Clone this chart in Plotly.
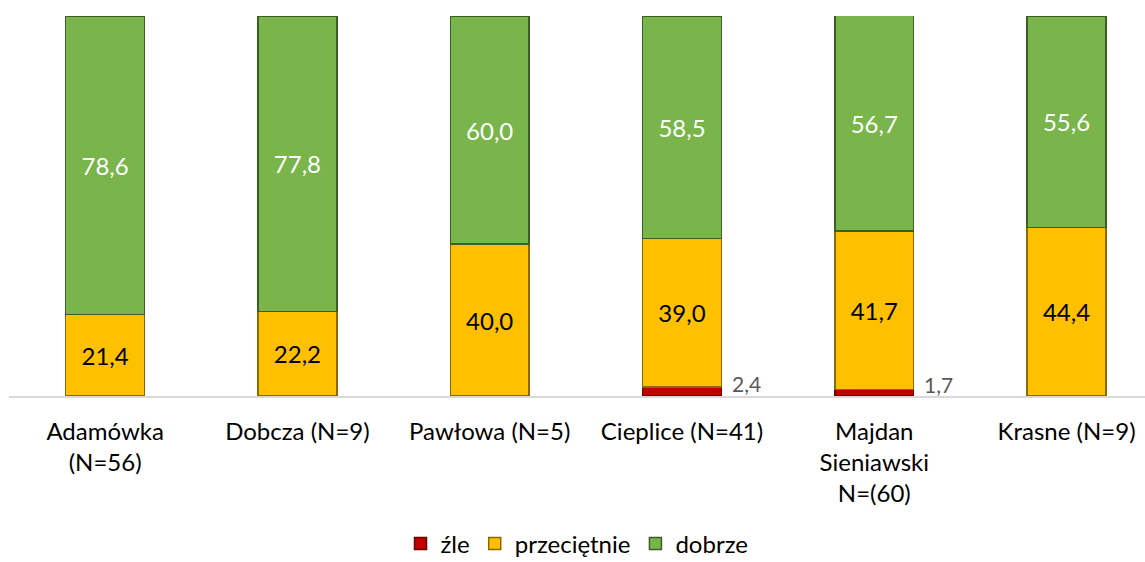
import plotly.graph_objects as go

categories = [
    "Adamówka<br>(N=56)",
    "Dobcza (N=9)",
    "Pawłowa (N=5)",
    "Cieplice (N=41)",
    "Majdan<br>Sieniawski<br>N=(60)",
    "Krasne (N=9)",
]
zle = [0.0, 0.0, 0.0, 2.4, 1.7, 0.0]
przecietnie = [21.4, 22.2, 40.0, 39.0, 41.7, 44.4]
dobrze = [78.6, 77.8, 60.0, 58.5, 56.7, 55.6]

FONT = "Lato, 'Open Sans', sans-serif"
BAR_W = 0.41


def fmt(v):
    return f"{v:.1f}".replace(".", ",")


x = list(range(len(categories)))
fig = go.Figure()

fig.add_trace(go.Bar(
    name="źle", x=x, y=zle, width=BAR_W,
    marker=dict(color="#c00000", line=dict(color="#6e0000", width=1.5)),
    hoverinfo="skip",
))
fig.add_trace(go.Bar(
    name="przeciętnie", x=x, y=przecietnie, width=BAR_W,
    marker=dict(color="#ffc000", line=dict(color="#8a6a00", width=1.5)),
    text=[fmt(v) for v in przecietnie], textposition="inside",
    insidetextanchor="middle",
    textfont=dict(family=FONT, size=24, color="#000000"),
    hoverinfo="skip",
))
fig.add_trace(go.Bar(
    name="dobrze", x=x, y=dobrze, width=BAR_W,
    marker=dict(color="#79b54a", line=dict(color="#3b5f24", width=1.5)),
    text=[fmt(v) for v in dobrze], textposition="inside",
    insidetextanchor="middle",
    textfont=dict(family=FONT, size=24, color="#ffffff"),
    hoverinfo="skip",
))

# small "źle" values are labelled beside their bars
for i, v in enumerate(zle):
    if v > 0:
        fig.add_annotation(
            x=i, y=v / 2, text=fmt(v), showarrow=False,
            xanchor="left", yanchor="middle", xshift=48, yshift=8,
            font=dict(family=FONT, size=21, color="#595959"),
        )

fig.update_layout(
    barmode="stack",
    width=1145, height=562,
    margin=dict(l=9, r=0, t=16, b=166, autoexpand=False),
    paper_bgcolor="white", plot_bgcolor="white",
    font=dict(family=FONT, size=24, color="#000000"),
    showlegend=True,
    legend=dict(
        orientation="h", x=0.5, xanchor="center",
        yref="container", y=0.032, yanchor="middle",
        font=dict(family=FONT, size=24, color="#000000"),
        itemwidth=30, traceorder="normal",
    ),
    xaxis=dict(
        tickvals=x, ticktext=categories,
        range=[-0.5, 5.408],
        showline=True, linecolor="#d9d9d9", linewidth=2,
        showgrid=False, zeroline=False, ticks="",
        ticklabelstandoff=13,
        tickfont=dict(family=FONT, size=24, color="#000000"),
    ),
    yaxis=dict(
        range=[0, 100], visible=False, showgrid=False, zeroline=False,
    ),
)

fig.write_html("out.html")
